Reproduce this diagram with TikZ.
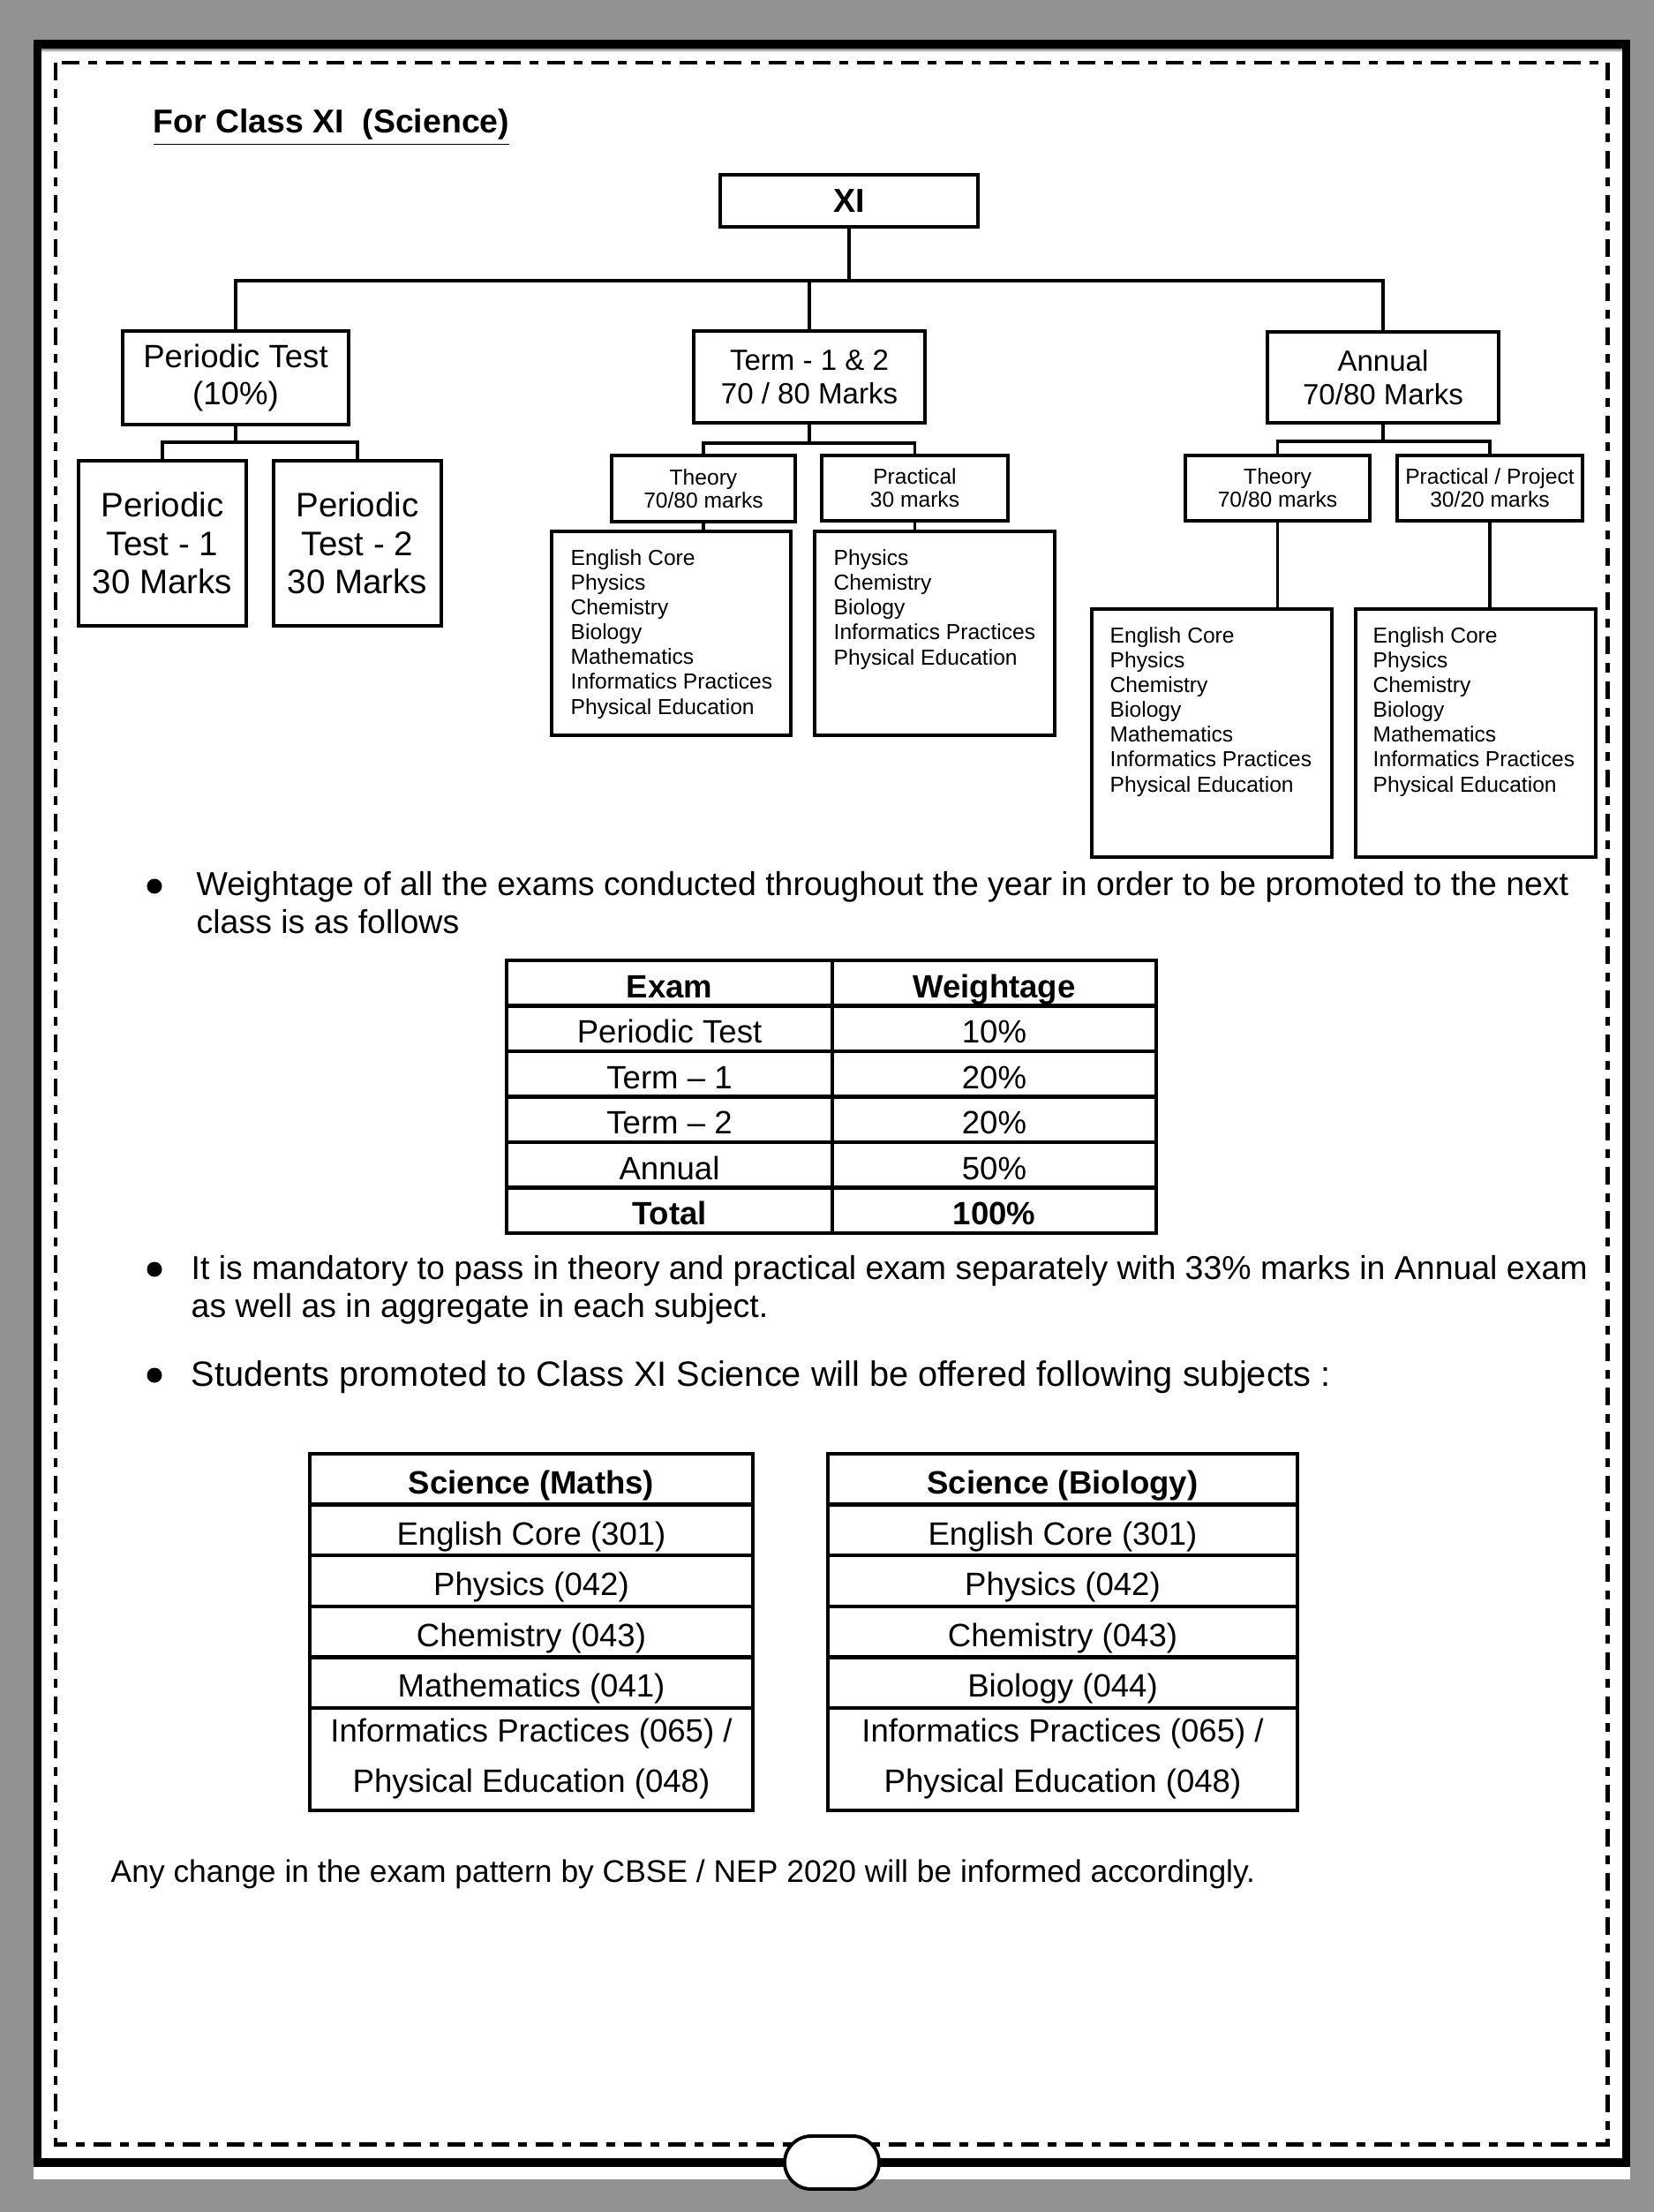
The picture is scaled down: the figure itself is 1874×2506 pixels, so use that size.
\documentclass[tikz,border=0pt]{standalone}
\usepackage{fontspec}
\setmainfont{Liberation Sans}
\definecolor{bggray}{RGB}{146,146,146}
\definecolor{shade}{RGB}{175,175,175}
\begin{document}
\begin{tikzpicture}[x=0.01cm,y=-0.01cm,
  box/.style={draw, line width=1.1pt, inner sep=0pt, align=center},
  conn/.style={line width=0.9pt},
  midfont/.style={font=\fontsize{10.4pt}{11.95pt}\selectfont},
  termfont/.style={font=\fontsize{9.4pt}{10.8pt}\selectfont},
  bigfont/.style={font=\fontsize{10.95pt}{12.4pt}\selectfont},
  smallfont/.style={font=\fontsize{7pt}{7.4pt}\selectfont},
  listtext/.style={inner sep=0pt, align=left, font=\fontsize{7pt}{7.97pt}\selectfont},
  para/.style={inner sep=0pt, align=left, font=\fontsize{10.65pt}{11.95pt}\selectfont},
  bulletdot/.style={circle, fill=black, inner sep=0pt, minimum size=0.17cm},
  cell/.style={draw, line width=1.2pt, inner sep=0pt, font=\fontsize{10.4pt}{12pt}\selectfont, text height=10.5pt, text depth=1pt},
  cellA/.style={cell, minimum width=3.69cm, minimum height=0.515cm},
  cellB/.style={cell, minimum width=3.67cm, minimum height=0.515cm},
  scell/.style={cell, minimum width=5.02cm, minimum height=0.576cm},
  scelltwo/.style={draw, line width=1.2pt, inner sep=0pt, minimum width=5.02cm, minimum height=1.16cm, align=center, font=\fontsize{10.4pt}{16.2pt}\selectfont}
]
% background and page
\fill[bggray] (0,0) rectangle (1874,2506);
\fill[white] (38,45) rectangle (1847,2469);
\fill[shade] (47,55) rectangle (1838,59);
\draw[line width=2.7pt] (42.5,50) rectangle (1842.5,2450);
\draw[line width=1.42pt, dash pattern=on 0.2cm off 0.1cm on 0.1cm off 0.1cm] (63,71) rectangle (1821,2429);

% title
\node[inner sep=0pt, anchor=base west, font=\fontsize{10.64pt}{12pt}\selectfont\bfseries] (title) at (173,151) {\underline{For Class XI\ \ (Science)}};

% tree
\node[box, minimum width=2.92cm, minimum height=0.59cm, font=\fontsize{10.7pt}{12pt}\selectfont\bfseries] (xi) at (962,227.5) {XI};
\node[box, midfont, minimum width=2.56cm, minimum height=1.06cm] (pt) at (267,428) {Periodic Test\\(10\%)};
\node[box, termfont, minimum width=2.62cm, minimum height=1.04cm] (term) at (917,427) {Term - 1 \& 2\\70 / 80 Marks};
\node[box, termfont, minimum width=2.62cm, minimum height=1.03cm] (annual) at (1567,427.5) {Annual\\70/80 Marks};

\node[box, bigfont, minimum width=1.90cm, minimum height=1.87cm] (pt1) at (184,615.5) {Periodic\\Test - 1\\30 Marks};
\node[box, bigfont, minimum width=1.90cm, minimum height=1.87cm] (pt2) at (405,615.5) {Periodic\\Test - 2\\30 Marks};

\node[box, smallfont, minimum width=2.08cm, minimum height=0.75cm] (tth) at (797,553.5) {Theory\\70/80 marks};
\node[box, smallfont, minimum width=2.11cm, minimum height=0.74cm] (tpr) at (1036.5,553) {Practical\\30 marks};
\node[box, smallfont, minimum width=2.09cm, minimum height=0.74cm] (ath) at (1447.5,553) {Theory\\70/80 marks};
\node[box, smallfont, minimum width=2.10cm, minimum height=0.74cm] (apr) at (1688,553) {Practical / Project\\30/20 marks};

\node[box, minimum width=2.71cm, minimum height=2.31cm] (tthl) at (760.5,717.5) {};
\node[box, minimum width=2.72cm, minimum height=2.31cm] (tprl) at (1059,717.5) {};
\node[box, minimum width=2.72cm, minimum height=2.81cm] (athl) at (1373,830.5) {};
\node[box, minimum width=2.72cm, minimum height=2.81cm] (aprl) at (1672,830.5) {};

% multi-line text nodes: base anchor = baseline of last line
\node[listtext, anchor=base west] (tthlt) at (646,809) {English Core\\Physics\\Chemistry\\Biology\\Mathematics\\Informatics Practices\\Physical Education};
\node[listtext, anchor=base west] (tprlt) at (944,753) {Physics\\Chemistry\\Biology\\Informatics Practices\\Physical Education};
\node[listtext, anchor=base west] (athlt) at (1257,897) {English Core\\Physics\\Chemistry\\Biology\\Mathematics\\Informatics Practices\\Physical Education};
\node[listtext, anchor=base west] (aprlt) at (1555,897) {English Core\\Physics\\Chemistry\\Biology\\Mathematics\\Informatics Practices\\Physical Education};

% connectors
\coordinate (j0) at (962,318);
\coordinate (j1) at (267,501);
\coordinate (j2) at (917,502);
\coordinate (j3) at (1567,500);
\draw[conn] (xi.south) -- (xi.south |- j0);
\draw[conn] (pt.north) |- (annual.north |- j0) -- (annual.north);
\draw[conn] (term.north) -- (term.north |- j0);
\draw[conn] (pt.south) -- (j1);
\draw[conn] (pt1.north) |- (j1) -| (pt2.north);
\draw[conn] (term.south) -- (j2);
\draw[conn] (tth.north) |- (j2) -| (tpr.north);
\draw[conn] (annual.south) -- (j3);
\draw[conn] (ath.north) |- (j3) -| (apr.north);
\draw[conn] (tth.south) -- (tth.south |- tthl.north);
\draw[conn] (tpr.south) -- (tpr.south |- tprl.north);
\draw[conn] (ath.south) -- (ath.south |- athl.north);
\draw[conn] (apr.south) -- (apr.south |- aprl.north);

% bullet 1
\node[bulletdot] (b1) at (175,1004) {};
\node[para, anchor=base west] (t1) at (222,1057) {Weightage of all the exams conducted throughout the year in order to be promoted to the next\\class is as follows};

% weightage table
\node[cellA, font=\fontsize{10.4pt}{12pt}\selectfont\bfseries] (e0) at (758.5,1113.75) {Exam};
\node[cellB, font=\fontsize{10.4pt}{12pt}\selectfont\bfseries] (w0) at (1126.5,1113.75) {Weightage};
\node[cellA] (e1) at (758.5,1165.25) {Periodic Test};
\node[cellB] (w1) at (1126.5,1165.25) {10\%};
\node[cellA] (e2) at (758.5,1216.75) {Term -- 1};
\node[cellB] (w2) at (1126.5,1216.75) {20\%};
\node[cellA] (e3) at (758.5,1268.25) {Term -- 2};
\node[cellB] (w3) at (1126.5,1268.25) {20\%};
\node[cellA] (e4) at (758.5,1319.75) {Annual};
\node[cellB] (w4) at (1126.5,1319.75) {50\%};
\node[cellA, font=\fontsize{10.4pt}{12pt}\selectfont\bfseries] (e5) at (758.5,1371.25) {Total};
\node[cellB, font=\fontsize{10.4pt}{12pt}\selectfont\bfseries] (w5) at (1126.5,1371.25) {100\%};

% bullet 2
\node[bulletdot] (b2) at (175,1438) {};
\node[para, anchor=base west] (t2) at (216,1492) {It is mandatory to pass in theory and practical exam separately with 33\% marks in Annual exam\\as well as in aggregate in each subject.};

% bullet 3
\node[bulletdot] (b3) at (175,1558) {};
\node[para, anchor=base west, font=\fontsize{11.3pt}{13pt}\selectfont] (t3) at (216,1570) {Students promoted to Class XI Science will be offered following subjects :};

% subject tables
\node[scell, font=\fontsize{10.4pt}{12pt}\selectfont\bfseries] (m0) at (602,1675.8) {Science (Maths)};
\node[scell] (m1) at (602,1733.4) {English Core (301)};
\node[scell] (m2) at (602,1791) {Physics (042)};
\node[scell] (m3) at (602,1848.6) {Chemistry (043)};
\node[scell] (m4) at (602,1906.2) {Mathematics (041)};
\node[scelltwo] (m5) at (602,1993) {Informatics Practices (065) /\\Physical Education (048)};

\node[scell, minimum width=5.32cm, font=\fontsize{10.4pt}{12pt}\selectfont\bfseries] (s0) at (1204,1675.8) {Science (Biology)};
\node[scell, minimum width=5.32cm] (s1) at (1204,1733.4) {English Core (301)};
\node[scell, minimum width=5.32cm] (s2) at (1204,1791) {Physics (042)};
\node[scell, minimum width=5.32cm] (s3) at (1204,1848.6) {Chemistry (043)};
\node[scell, minimum width=5.32cm] (s4) at (1204,1906.2) {Biology (044)};
\node[scelltwo, minimum width=5.32cm] (s5) at (1204,1993) {Informatics Practices (065) /\\Physical Education (048)};

% note
\node[para, anchor=base west, font=\fontsize{10.07pt}{12pt}\selectfont] (note) at (125,2132) {Any change in the exam pattern by CBSE / NEP 2020 will be informed accordingly.};

% bottom oval
\draw[line width=1.1pt, fill=white, rounded corners=0.3cm] (889,2420) rectangle (996,2480);
\end{tikzpicture}
\end{document}
